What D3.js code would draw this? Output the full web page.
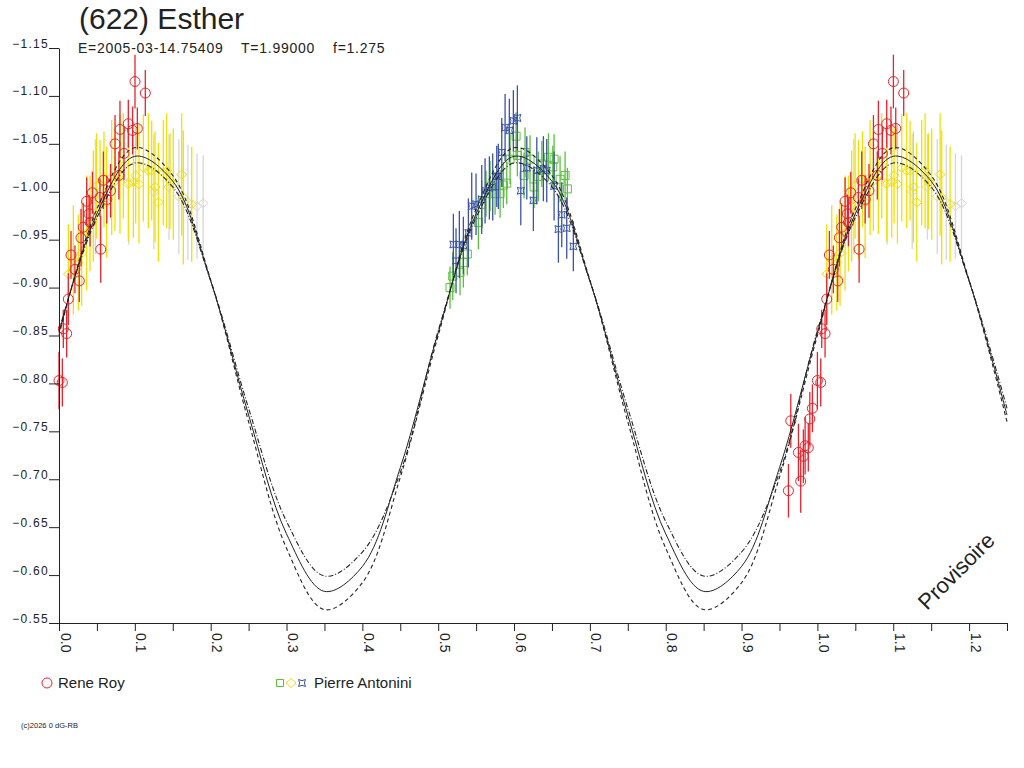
<!DOCTYPE html>
<html>
<head>
<meta charset="utf-8">
<script src="https://cdn.jsdelivr.net/npm/d3@7"></script>
<style>
  body { margin: 0; background: #fff; }
  svg { display: block; font-family: "Liberation Sans", Arial, sans-serif; }
</style>
</head>
<body>
<div id="chart"></div>
<script>
// model curves (phase / reduced magnitude)
const curvePhase = [0, 0.05, 0.1, 0.15, 0.2, 0.25, 0.3, 0.35, 0.4, 0.45, 0.5, 0.55, 0.6,
  0.65, 0.7, 0.75, 0.8, 0.85, 0.9, 0.95, 1.0, 1.05, 1.1, 1.15, 1.2, 1.25];
const curveMid = [-0.853, -0.977, -1.037, -1.011, -0.907, -0.767, -0.643, -0.583, -0.609, -0.712,
  -0.853, -0.977, -1.037, -1.011, -0.907, -0.767, -0.643, -0.583, -0.609, -0.712,
  -0.853, -0.977, -1.037, -1.011, -0.907, -0.767];
const curveHigh = [-0.850, -0.982, -1.046, -1.017, -0.908, -0.760, -0.628, -0.564, -0.592, -0.702,
  -0.850, -0.982, -1.046, -1.017, -0.908, -0.760, -0.628, -0.564, -0.592, -0.702,
  -0.850, -0.982, -1.046, -1.017, -0.908, -0.760];
const curveLow = [-0.855, -0.973, -1.030, -1.005, -0.907, -0.774, -0.656, -0.599, -0.624, -0.707,
  -0.855, -0.973, -1.030, -1.005, -0.907, -0.774, -0.656, -0.599, -0.624, -0.707,
  -0.855, -0.973, -1.030, -1.005, -0.907, -0.774];

// Rene Roy
const royPhase = [0.1002, 0.1138, 0.0, 0.0044, 0.0101, 0.0057, 0.0123, 0.0158, 0.021, 0.0268,
  0.029, 0.032, 0.0365, 0.0396, 0.0409, 0.044, 0.055, 0.054, 0.0585, 0.063, 0.068, 0.0739,
  0.079, 0.0804, 0.0857, 0.0914, 0.097, 0.1033,
  0.9618, 0.9649, 0.975, 0.978, 0.9815, 0.9838, 0.988, 0.990, 0.9934];
const royMag = [-1.115, -1.103, -0.803, -0.801, -0.852, -0.857, -0.888, -0.934, -0.919, -0.907,
  -0.952, -0.963, -0.990, -0.977, -0.968, -0.999, -0.940, -0.994, -1.012, -0.992, -1.001, -1.050,
  -1.017, -1.065, -1.040, -1.071, -1.064, -1.066,
  -0.688, -0.761, -0.728, -0.698, -0.724, -0.735, -0.733, -0.763, -0.774];
const royErr = [0.028, 0.024, 0.030, 0.025, 0.025, 0.020, 0.027, 0.025, 0.025, 0.022,
  0.030, 0.025, 0.025, 0.020, 0.025, 0.022, 0.035, 0.020, 0.030, 0.025, 0.028, 0.030,
  0.025, 0.030, 0.028, 0.025, 0.025, 0.022,
  0.028, 0.028, 0.030, 0.033, 0.028, 0.030, 0.025, 0.028, 0.025];

// Pierre Antonini, session 1 (yellow)
const antYPhase = [0.0123, 0.0189, 0.0255, 0.0299, 0.0365, 0.0409, 0.0452, 0.0497, 0.0541, 0.0593,
  0.0629, 0.0695, 0.0738, 0.0804, 0.0848, 0.0914, 0.098, 0.1011, 0.1055, 0.1112, 0.1178, 0.1222,
  0.1266, 0.131, 0.1375, 0.142, 0.1464, 0.1507, 0.1618, 0.1639, 0.175];
const antYMag = [-0.914, -0.929, -0.926, -0.936, -0.957, -0.967, -0.985, -1.006, -0.992, -1.013,
  -0.989, -1.015, -1.011, -1.018, -1.027, -1.008, -1.010, -1.017, -1.008, -1.025, -1.022, -1.022,
  -1.005, -0.989, -1.020, -1.022, -1.011, -1.008, -1.018, -0.994, -0.987];
const antYErr = [0.052, 0.057, 0.050, 0.055, 0.060, 0.050, 0.058, 0.055, 0.062, 0.050,
  0.058, 0.060, 0.052, 0.062, 0.055, 0.060, 0.058, 0.050, 0.062, 0.056, 0.060, 0.052,
  0.058, 0.062, 0.055, 0.060, 0.050, 0.058, 0.064, 0.070, 0.060];

// Pierre Antonini, session 2 (grey)
const antGPhase = [0.048, 0.092, 0.125, 0.145, 0.158, 0.170, 0.182, 0.190];
const antGMag = [-0.995, -1.010, -1.000, -1.005, -0.995, -0.989, -0.985, -0.988];
const antGErr = [0.060, 0.065, 0.060, 0.055, 0.060, 0.060, 0.055, 0.050];

// Pierre Antonini, session 3 (green)
const antVPhase = [0.5156, 0.5192, 0.5288, 0.5332, 0.5384, 0.553, 0.5574, 0.5631, 0.5684, 0.575,
  0.5816, 0.5859, 0.5904, 0.5948, 0.6027, 0.6044, 0.6145, 0.6132, 0.6211, 0.6264, 0.6321,
  0.6366, 0.6453, 0.6511, 0.6528, 0.6607, 0.6673, 0.6703];
const antVMag = [-0.900, -0.912, -0.916, -0.926, -0.935, -0.968, -0.987, -0.998, -1.006, -0.998,
  -0.998, -1.007, -1.009, -1.034, -1.058, -1.038, -1.041, -1.017, -1.034, -1.005, -1.016,
  -1.029, -1.036, -1.026, -1.034, -1.013, -1.017, -1.003];
const antVErr = [0.022, 0.025, 0.024, 0.026, 0.022, 0.028, 0.025, 0.024, 0.026, 0.022,
  0.025, 0.024, 0.022, 0.026, 0.025, 0.022, 0.026, 0.024, 0.025, 0.022, 0.026,
  0.024, 0.025, 0.022, 0.026, 0.024, 0.025, 0.022];

// Pierre Antonini, session 4 (blue)
const antBPhase = [0.52, 0.5279, 0.5332, 0.5235, 0.5398, 0.5442, 0.5499, 0.5574, 0.5618, 0.5675,
  0.5719, 0.5772, 0.5793, 0.5838, 0.5882, 0.5938, 0.5991, 0.6044, 0.6089, 0.6168, 0.6255,
  0.63, 0.6387, 0.6431, 0.6528, 0.6585, 0.6629, 0.6695, 0.6782];
const antBMag = [-0.945, -0.945, -0.944, -0.928, -0.957, -0.985, -0.987, -0.992, -1.001, -1.004,
  -1.005, -1.016, -1.016, -1.041, -1.067, -1.064, -1.074, -1.077, -1.001, -1.025, -0.991,
  -1.022, -1.024, -1.022, -1.006, -0.961, -0.976, -0.962, -0.943];
const antBErr = [0.032, 0.035, 0.030, 0.034, 0.036, 0.035, 0.032, 0.036, 0.034, 0.033,
  0.035, 0.032, 0.034, 0.036, 0.035, 0.033, 0.032, 0.034, 0.036, 0.033, 0.032,
  0.035, 0.034, 0.033, 0.036, 0.035, 0.034, 0.032, 0.026];

const xMajorTicks = [0.0, 0.1, 0.2, 0.3, 0.4, 0.5, 0.6, 0.7, 0.8, 0.9, 1.0, 1.1, 1.2];
const xMinorTicks = [0.05, 0.15, 0.25, 0.35, 0.45, 0.55, 0.65, 0.75, 0.85, 0.95, 1.05, 1.15, 1.25];
const yTicks = [-1.15, -1.10, -1.05, -1.00, -0.95, -0.90, -0.85, -0.80, -0.75, -0.70, -0.65, -0.60, -0.55];

const width = 1024, height = 768;
const svg = d3.select("#chart").append("svg").attr("width", width).attr("height", height);

const x = d3.scaleLinear().domain([0, 1.25]).range([59, 1007]);
const y = d3.scaleLinear().domain([-0.55, -1.15]).range([623, 48]);

const ink = "#222";

// build point tables; phases below 0.25 are repeated after 1.0
const table = (ph, mag, err) => {
  const out = [];
  ph.forEach((p, i) => {
    out.push({ p: p, m: mag[i], e: err[i] });
    if (p + 1 <= 1.25) out.push({ p: p + 1, m: mag[i], e: err[i] });
  });
  return out;
};

const diamond = "M0,-4.5L5,0L0,4.5L-5,0Z";
const square = "M-4,-4H4V4H-4Z";
const star = "M-3.5,-3.5Q0,-1.2 3.5,-3.5Q1.2,0 3.5,3.5Q0,1.2 -3.5,3.5Q-1.2,0 -3.5,-3.5Z";
const circle = d3.symbol().type(d3.symbolCircle).size(Math.PI * 25)();

const series = [
  { data: table(antGPhase, antGMag, antGErr), color: "#d6d6d6", shape: diamond },
  { data: table(antYPhase, antYMag, antYErr), color: "#f2e000", shape: diamond },
  { data: table(royPhase, royMag, royErr), color: "#e8232c", shape: circle },
  { data: table(antVPhase, antVMag, antVErr), color: "#5cbd3e", shape: square },
  { data: table(antBPhase, antBMag, antBErr), color: "#3a52a8", shape: star }
];

const plot = svg.append("g");

series.forEach(s => {
  const g = plot.append("g");
  g.selectAll("line")
    .data(s.data)
    .enter()
    .append("line")
    .attr("x1", d => x(d.p))
    .attr("x2", d => x(d.p))
    .attr("y1", d => y(d.m - d.e))
    .attr("y2", d => y(d.m + d.e))
    .attr("stroke", s.color)
    .attr("stroke-width", 1.3);
  g.selectAll("path")
    .data(s.data)
    .enter()
    .append("path")
    .attr("d", s.shape)
    .attr("transform", d => `translate(${x(d.p)},${y(d.m)})`)
    .attr("fill", "none")
    .attr("stroke", s.color)
    .attr("stroke-width", 1);
});

// model curves
const line = d3.line()
  .x((d, i) => x(curvePhase[i]))
  .y(d => y(d))
  .curve(d3.curveCatmullRom);

plot.append("path").attr("d", line(curveHigh))
  .attr("fill", "none").attr("stroke", ink).attr("stroke-width", 1.1).attr("stroke-dasharray", "4,3");
plot.append("path").attr("d", line(curveLow))
  .attr("fill", "none").attr("stroke", ink).attr("stroke-width", 1.1).attr("stroke-dasharray", "5,2,1,2");
plot.append("path").attr("d", line(curveMid))
  .attr("fill", "none").attr("stroke", ink).attr("stroke-width", 1);

// axes
const xAxis = svg.append("g")
  .attr("transform", "translate(0,623)")
  .call(d3.axisBottom(x)
    .tickValues(xMajorTicks.concat(xMinorTicks))
    .tickSize(8).tickSizeOuter(0)
    .tickFormat(d => xMajorTicks.includes(d) ? d3.format(".1f")(d) : ""));
xAxis.select(".domain").attr("stroke", ink);
xAxis.selectAll(".tick line").attr("stroke", ink);
xAxis.selectAll(".tick text")
  .attr("transform", "rotate(90)")
  .attr("x", 10).attr("y", -1).attr("dy", 0)
  .style("text-anchor", "start")
  .style("font-family", "'Liberation Sans', Arial, sans-serif")
  .style("font-size", "14px")
  .attr("fill", ink);

const yAxis = svg.append("g")
  .attr("transform", "translate(59,0)")
  .call(d3.axisLeft(y)
    .tickValues(yTicks)
    .tickSize(10).tickSizeOuter(0).tickPadding(0)
    .tickFormat(d3.format(".2f")));
yAxis.select(".domain").attr("stroke", ink);
yAxis.selectAll(".tick line").attr("stroke", ink);
yAxis.selectAll(".tick text")
  .attr("x", -10).attr("dy", -1)
  .style("font-family", "'Liberation Sans', Arial, sans-serif")
  .style("font-size", "12px")
  .style("letter-spacing", "1.3px")
  .attr("fill", ink);

// titles
svg.append("text").attr("x", 79).attr("y", 29)
  .style("font-size", "30px").attr("fill", ink).text("(622) Esther");
const sub = [["E=2005-03-14.75409", 78], ["T=1.99000", 241], ["f=1.275", 333]];
sub.forEach(s => {
  svg.append("text").attr("x", s[1]).attr("y", 53)
    .style("font-size", "14px").style("letter-spacing", "0.75px")
    .attr("fill", ink).text(s[0]);
});

// legend
const legend = svg.append("g");
legend.append("path").attr("d", circle).attr("transform", "translate(47,683)")
  .attr("fill", "none").attr("stroke", "#e8232c");
legend.append("text").attr("x", 58).attr("y", 688).style("font-size", "15px").attr("fill", ink).text("Rene Roy");
legend.append("path").attr("d", "M-3.5,-3.5H3.5V3.5H-3.5Z").attr("transform", "translate(280,683)")
  .attr("fill", "none").attr("stroke", "#5cbd3e");
legend.append("path").attr("d", diamond).attr("transform", "translate(291,683)")
  .attr("fill", "none").attr("stroke", "#f2e000");
legend.append("path").attr("d", star).attr("transform", "translate(302,683)")
  .attr("fill", "none").attr("stroke", "#3a52a8");
legend.append("text").attr("x", 314).attr("y", 688).style("font-size", "15px").attr("fill", ink).text("Pierre Antonini");

svg.append("text").attr("x", 21).attr("y", 728)
  .style("font-size", "7.5px").attr("textLength", 57).attr("fill", ink).text("(c)2026 0 dG-RB");

svg.append("text").attr("transform", "translate(927,611) rotate(-45)")
  .style("font-size", "22px").attr("fill", ink).text("Provisoire");
</script>
</body>
</html>
